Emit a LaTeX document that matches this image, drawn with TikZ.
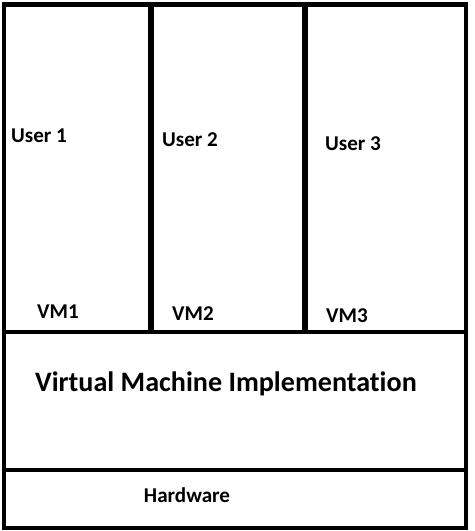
\documentclass[tikz,border=0pt]{standalone}
\usepackage{fontspec}
\setmainfont[Ligatures=NoCommon]{Carlito}
\begin{document}
\begin{tikzpicture}[x=0.02cm,y=-0.02cm,line width=2.8pt,
    lbl/.style={anchor=base,inner sep=0pt,font=\bfseries\fontsize{12pt}{14pt}\selectfont}]
        \useasboundingbox (0,0) rectangle (474,531);
        \draw (4,4.5) rectangle (466,528);
        \draw[line width=3.4pt] (151,4.5) -- (151,332);
        \draw[line width=3.4pt] (305,4.5) -- (305,332);
        \draw (4,332) -- (466,332);
        \draw (4,470) -- (466,470);
        \draw (39,142) node[lbl] (user1) {User 1};
        \draw (190,146.5) node[lbl] (user2) {User 2};
        \draw (353,150.5) node[lbl] (user3) {User 3};
        \draw (58,318) node[lbl] (vm1) {VM1};
        \draw (193,320.5) node[lbl] (vm2) {VM2};
        \draw (347,322) node[lbl] (vm3) {VM3};
        \draw (226,391.5) node[lbl,font=\bfseries\fontsize{16pt}{19pt}\selectfont] (vmi) {Virtual Machine Implementation};
        \draw (187,502.5) node[lbl] (hw) {Hardware};
        \end{tikzpicture}
\end{document}
